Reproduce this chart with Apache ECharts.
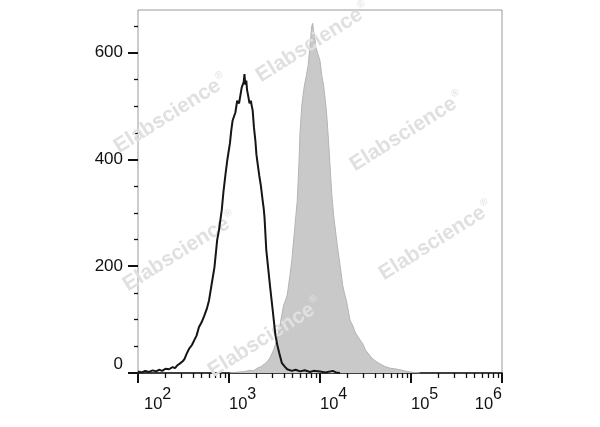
<!DOCTYPE html>
<html>
<head>
<meta charset="utf-8">
<script src="https://cdn.jsdelivr.net/npm/echarts@6/dist/echarts.min.js"></script>
<style>
html,body{margin:0;padding:0;background:#fff;}
#chart{width:600px;height:427px;}
</style>
</head>
<body>
<div id="chart"></div>
<script>
// Fluorescence intensity (x) vs count (y)
const controlCurve = [[100,3],[110,1],[120,4],[132,2],[145,5],[158,3],[170,6],[185,4],[200,8],[219,7],[240,11],[255,9],[269,14],[290,18],[310,22],[324,26],[340,35],[363,45],[390,52],[417,62],[440,70],[468,86],[500,95],[537,108],[570,120],[603,136],[650,170],[692,198],[741,249],[780,270],[832,305],[870,340],[912,370],[960,400],[1023,430],[1060,455],[1096,473],[1130,470],[1175,488],[1230,510],[1290,505],[1349,525],[1380,535],[1413,538],[1450,545],[1479,560],[1510,540],[1549,548],[1580,530],[1622,520],[1680,505],[1738,510],[1780,500],[1820,492],[1880,460],[1950,435],[2000,410],[2042,398],[2150,370],[2239,351],[2344,323],[2400,310],[2455,292],[2570,230],[2700,195],[2818,164],[3020,118],[3236,71],[3400,52],[3548,39],[3802,19],[4100,12],[4365,7],[4898,4],[5400,6],[6026,3],[6800,5],[7762,2],[8500,4],[10000,3],[11500,1],[13800,4],[15000,1],[16600,0]];
const stainedCurve = [[1012,0],[1150,1],[1318,2],[1500,3],[1698,5],[1850,4],[2042,9],[2250,12],[2455,17],[2650,22],[2818,28],[3090,43],[3300,58],[3467,71],[3715,99],[3981,127],[4150,135],[4365,146],[4677,183],[4898,211],[5248,267],[5623,323],[5888,398],[6026,449],[6310,501],[6607,529],[6850,545],[7079,557],[7413,576],[7762,613],[8128,650],[8318,655],[8500,640],[8710,632],[9000,610],[9333,613],[10000,585],[10471,557],[10965,538],[11749,492],[12303,445],[12882,389],[13490,333],[14125,295],[15488,239],[16596,202],[17783,164],[18500,150],[19498,136],[21380,99],[23000,88],[24547,75],[27542,62],[29500,55],[31623,43],[37154,28],[41000,22],[45709,17],[52000,12],[58884,9],[66000,8],[75858,6],[85000,4],[97724,2],[110000,1],[125893,0]];
const xMajorTicks = [100,1000,10000,100000,1000000];
const xMinorTicks = [200,300,400,500,600,700,800,900,2000,3000,4000,5000,6000,7000,8000,9000,20000,30000,40000,50000,60000,70000,80000,90000,200000,300000,400000,500000,600000,700000,800000,900000];
const yMajorTicks = [0,200,400,600];
const yMinorTicks = [50,100,150,250,300,350,450,500,550,650];
const watermarkText = 'Elabscience';

const FONT = '"Liberation Sans", Arial, sans-serif';
const chart = echarts.init(document.getElementById('chart'), null, {renderer:'canvas'});

const wmPos = [[171,114],[313,43],[407,132],[180,252],[436,241],[265,338]];
const graphics = wmPos.map(p => ({
  type:'text', x:p[0], y:p[1], rotation: 0.56, z: 3, silent:true,
  style:{
    text: watermarkText + '{r|®}',
    fill:'#e0e0e0', font:'bold 21px ' + FONT,
    align:'center', verticalAlign:'middle',
    rich:{ r:{ fontSize:10, fontWeight:'normal', fill:'#e0e0e0', padding:[0,0,14,1], fontFamily: FONT } }
  }
}));

chart.setOption({
  animation:false,
  backgroundColor:'#fff',
  grid:{left:138, right:98, top:10, bottom:54, show:true, borderColor:'#9a9a9a', borderWidth:1, backgroundColor:'transparent'},
  graphic: graphics,
  xAxis:[{
    type:'log', logBase:10, min:100, max:1000000,
    axisLine:{show:true, lineStyle:{color:'#111', width:1.5}},
    axisTick:{show:true, inside:false, length:10, customValues:xMajorTicks, lineStyle:{color:'#111', width:2}},
    splitLine:{show:false},
    axisLabel:{
      show:true, customValues:xMajorTicks, margin:13, align:'left', alignMaxLabel:'right',
      formatter: v => {
        const e = Math.round(Math.log10(v));
        return (e === 2 ? '{b0|10}' : '{b|10}') + '{s|' + e + '}';
      },
      rich:{
        b:{fontSize:16.5, color:'#111', fontFamily:FONT, padding:[10,0,0,0]},
        b0:{fontSize:16.5, color:'#111', fontFamily:FONT, padding:[10,0,0,6]},
        s:{fontSize:16, color:'#111', fontFamily:FONT, padding:[0,0,10,0]}
      }
    }
  },{
    type:'log', logBase:10, min:100, max:1000000, position:'bottom', offset:0,
    axisLine:{show:false},
    axisTick:{show:true, inside:false, length:5, customValues:xMinorTicks, lineStyle:{color:'#111', width:1.3}},
    axisLabel:{show:false}, splitLine:{show:false}
  }],
  yAxis:[{
    type:'value', min:0, max:680,
    axisLine:{show:false},
    axisTick:{show:true, inside:false, length:10, customValues:yMajorTicks, lineStyle:{color:'#111', width:2}},
    axisLabel:{show:true, customValues:yMajorTicks, margin:15, fontSize:17, color:'#111', fontFamily:FONT, verticalAlignMinLabel:'bottom'},
    splitLine:{show:false}
  },{
    type:'value', min:0, max:680, position:'left', offset:0,
    axisLine:{show:false},
    axisTick:{show:true, inside:false, length:4, customValues:yMinorTicks, lineStyle:{color:'#111', width:1.3}},
    axisLabel:{show:false}, splitLine:{show:false}
  }],
  series:[{
    type:'line', name:'stained', data:stainedCurve, xAxisIndex:0, yAxisIndex:0,
    showSymbol:false, smooth:false, z:2,
    lineStyle:{color:'#b4b4b4', width:1},
    areaStyle:{color:'#c9c9c9', opacity:1, origin:'start'}
  },{
    type:'line', name:'control', data:controlCurve, xAxisIndex:0, yAxisIndex:0,
    showSymbol:false, smooth:false, z:5,
    lineStyle:{color:'#151515', width:2}
  }]
});
</script>
</body>
</html>
